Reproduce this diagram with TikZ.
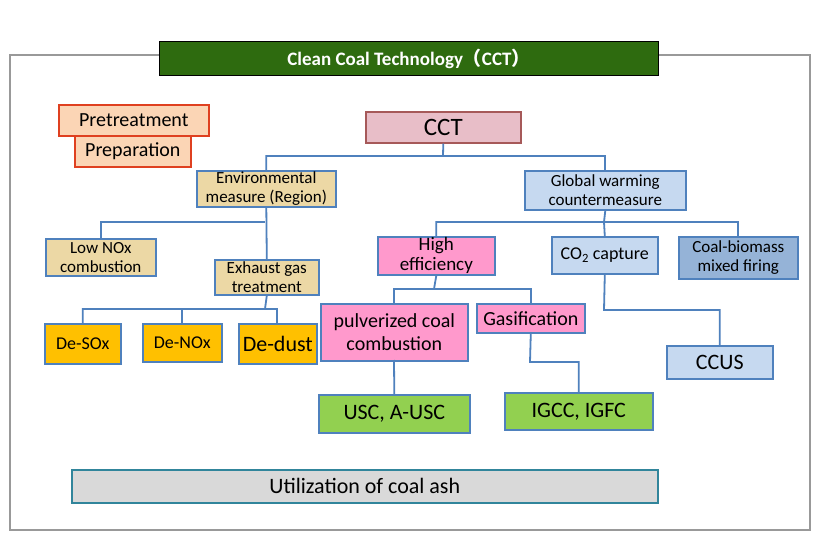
\documentclass[tikz,border=0pt]{standalone}
\usepackage{fontspec}
\setmainfont{Carlito}
\newfontfamily\cjk{Noto Sans CJK SC}
\definecolor{peach}{RGB}{251,213,181}\definecolor{tan}{RGB}{236,216,165}
\definecolor{lblue}{RGB}{198,217,240}\definecolor{mblue}{RGB}{149,179,215}
\definecolor{bord}{RGB}{79,129,189}\definecolor{pinkf}{RGB}{255,153,204}
\definecolor{yel}{RGB}{255,192,0}\definecolor{grn}{RGB}{146,208,80}
\definecolor{cctp}{RGB}{232,190,200}\definecolor{teal2}{RGB}{49,133,155}
\definecolor{dgreen}{RGB}{46,107,15}
\begin{document}
\begin{tikzpicture}[x=1pt,y=-1pt,
 bx/.style={draw=#1,line width=1.6pt,inner sep=0pt,align=center,font=\fontsize{17}{19}\selectfont},
 ln/.style={draw=bord,line width=1.8pt}]
\useasboundingbox (0,0) rectangle (820,540);
\fill[white] (0,0) rectangle (820,540);
\draw[gray!80,line width=1.2pt] (10,55) rectangle (810,530);
\node[draw=black,fill=dgreen,line width=1pt,minimum width=499,minimum height=34,anchor=north west,inner sep=0pt,text=white,font=\fontsize{19}{20}\selectfont\bfseries] (title) at (159,41) {Clean Coal Technology{\cjk （}CCT{\cjk ）}};
\node[bx=red!50!brown,fill=peach,minimum width=150,minimum height=31,anchor=north west,font=\fontsize{20}{21}\selectfont] (pre) at (58,104) {Pretreatment};
\node[bx=red!50!brown,fill=peach,minimum width=116,minimum height=31,anchor=north west,font=\fontsize{20}{21}\selectfont] (prep) at (74,135) {Preparation};
\node[bx=gray!70!red,fill=cctp,minimum width=155,minimum height=31,anchor=north west,font=\fontsize{25}{26}\selectfont] (cct) at (365,111) {CCT};
\node[bx=bord,fill=tan,minimum width=139,minimum height=36,anchor=north west] (env) at (196,170) {Environmental\\measure (Region)};
\node[bx=bord,fill=lblue,minimum width=161,minimum height=39,anchor=north west] (glob) at (524,170) {Global warming\\countermeasure};
\node[bx=bord,fill=tan,minimum width=110,minimum height=37,anchor=north west] (low) at (45,238) {Low NOx\\combustion};
\node[bx=bord,fill=tan,minimum width=104,minimum height=35,anchor=north west] (exh) at (214,259) {Exhaust gas\\treatment};
\node[bx=bord,fill=pinkf,minimum width=117,minimum height=38,anchor=north west,font=\fontsize{19}{20}\selectfont] (high) at (377,236) {High\\efficiency};
\node[bx=bord,fill=lblue,minimum width=106,minimum height=37,anchor=north west,font=\fontsize{18}{19}\selectfont] (co2) at (551,236) {CO\textsubscript{2} capture};
\node[bx=bord,fill=mblue,minimum width=119,minimum height=42,anchor=north west] (bio) at (678,236) {Coal-biomass\\mixed firing};
\node[bx=bord,fill=yel,minimum width=76,minimum height=40,anchor=north west,font=\fontsize{18}{19}\selectfont] (sox) at (44,323) {De-SOx};
\node[bx=bord,fill=yel,minimum width=79,minimum height=38,anchor=north west,font=\fontsize{18}{19}\selectfont] (nox) at (142,323) {De-NOx};
\node[bx=bord,fill=yel,minimum width=78,minimum height=40,anchor=north west,font=\fontsize{22}{23}\selectfont] (dust) at (238,323) {De-dust};
\node[bx=bord,fill=pinkf,minimum width=147,minimum height=57,anchor=north west,font=\fontsize{20}{23}\selectfont] (pc) at (320,303) {pulverized coal\\combustion};
\node[bx=bord,fill=pinkf,minimum width=108,minimum height=29,anchor=north west,font=\fontsize{20}{21}\selectfont] (gas) at (476,303) {Gasification};
\node[bx=bord,fill=lblue,minimum width=106,minimum height=33,anchor=north west,font=\fontsize{22}{23}\selectfont] (ccus) at (666,345) {CCUS};
\node[bx=bord,fill=grn,minimum width=151,minimum height=38,anchor=north west,font=\fontsize{22}{23}\selectfont] (usc) at (318,394) {USC, A-USC};
\node[bx=bord,fill=grn,minimum width=148,minimum height=37,anchor=north west,font=\fontsize{22}{23}\selectfont] (igcc) at (504,392) {IGCC, IGFC};
\node[bx=teal2,fill=gray!30,minimum width=586,minimum height=33,anchor=north west,font=\fontsize{22}{23}\selectfont] (ash) at (71,469) {Utilization of coal ash};
\draw[ln] (cct.south) -- (443,156) -| (env.north);
\draw[ln] (443,156) -| (glob.north);
\draw[ln] (env.south) -- (exh.north);
\draw[ln] (265,222) -| (low.north);
\draw[ln] (glob.south) -- (604,222) -| (high.north);
\draw[ln] (604,222) -- (co2.north);
\draw[ln] (604,222) -| (bio.north);
\draw[ln] (exh.south) -- (265,309) -| (sox.north);
\draw[ln] (265,309) -| (nox.north);
\draw[ln] (265,309) -| (277,323);
\draw[ln] (high.south) -- (434,289) -| (394,303);
\draw[ln] (434,289) -| (gas.north);
\draw[ln] (394,360) -- (usc.north);
\draw[ln] (gas.south) -- (530,362) -| (igcc.north);
\draw[ln] (co2.south) -- (604,310) -| (ccus.north);
\end{tikzpicture}
\end{document}
